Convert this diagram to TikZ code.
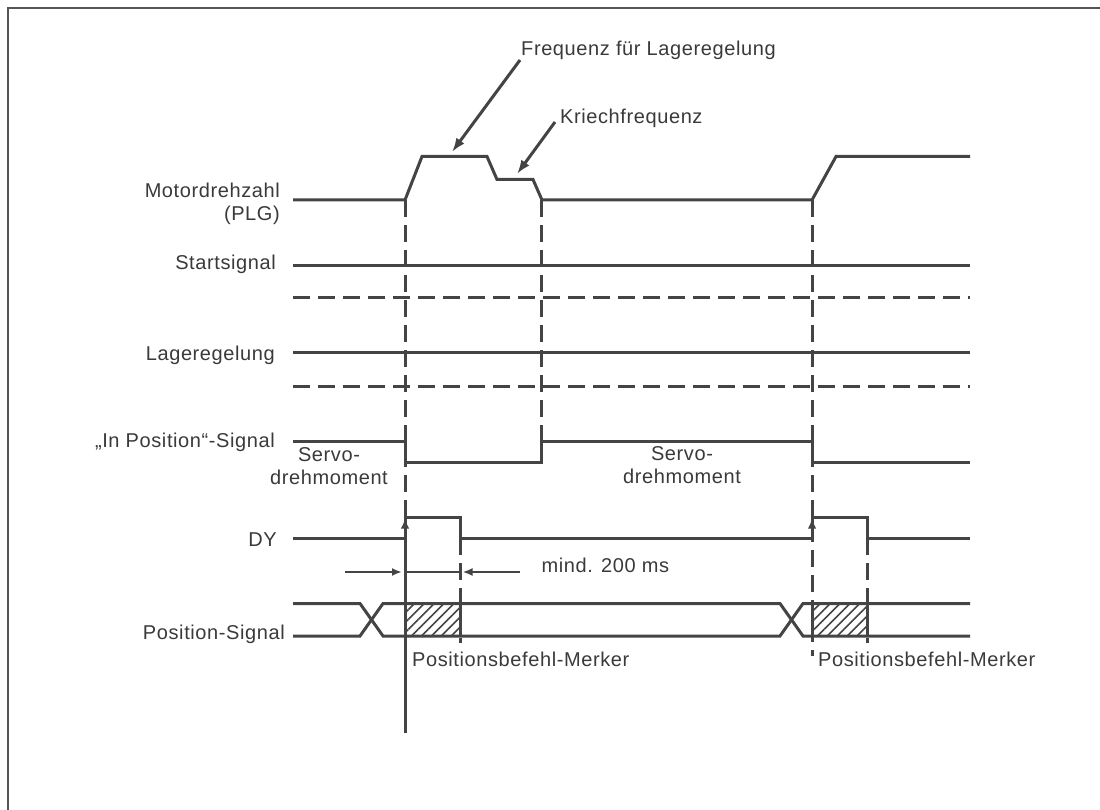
\documentclass[tikz,border=0pt]{standalone}
\usepackage{fontspec}
\setmainfont{Liberation Sans}
\newfontfamily\labfont[LetterSpace=3]{Liberation Sans}
\usetikzlibrary{arrows.meta,patterns.meta}
\definecolor{ink}{HTML}{444444}
\definecolor{txt}{HTML}{3A3A3A}
\definecolor{framecol}{HTML}{555555}
\begin{document}
\begin{tikzpicture}[x=1pt,y=-1pt,
  sig/.style={draw=ink,line width=3pt,line join=miter},
  guide/.style={draw=ink,line width=3pt,dash pattern=on 17pt off 8pt},
  lbl/.style={text=txt,font=\labfont\fontsize{20}{23}\selectfont,inner sep=0pt},
  ptr/.style={draw=ink,line width=3pt,-{Latex[length=14pt,width=10pt]}},
  dimarrow/.style={draw=ink,line width=2.5pt,-{Latex[length=10pt,width=8pt]}},
  upmark/.style={draw=ink,line width=2.5pt,-{Latex[length=10pt,width=8.5pt]}},
  hatch/.style={pattern={Lines[angle=45,distance=7pt,line width=1.6pt]},pattern color=ink},
]
\useasboundingbox (0,0) rectangle (1100,810);
\fill[white] (0,0) rectangle (1100,810);
\draw[framecol,line width=2pt] (7.5,810) -- (7.5,8.5) -- (1100,8.5);

% dashed reference lines
\draw[guide] (293,298) -- (970,298);
\draw[guide] (293,386) -- (970,386);
\draw[guide] (405,200) -- (405,516);
\draw[guide] (541,200) -- (541,441);
\draw[guide] (460,538) -- (460,643);
\draw[guide] (812,200) -- (812,656);
\draw[guide] (867,538) -- (867,643);

% signal lines
\draw[sig] (293,200) -- (405,200) -- (422,156.5) -- (487,156.5) -- (497,179.5) -- (533,179.5) -- (542,200) -- (812,200) -- (836,156.5) -- (970,156.5);
\draw[sig] (293,266) -- (970,266);
\draw[sig] (293,352.5) -- (970,352.5);
\draw[sig] (293,441) -- (405,441) -- (405,462) -- (541,462) -- (541,441) -- (812,441) -- (812,462) -- (970,462);
\draw[sig] (293,538) -- (405,538) -- (405,517) -- (460,517) -- (460,538) -- (812,538) -- (812,517) -- (867,517) -- (867,538) -- (970,538);

% position signal with hatched windows
\path[hatch] (405,603.5) rectangle (460,636);
\path[hatch] (812,603.5) rectangle (867,636);
\draw[sig] (293,603.5) -- (360,603.5) -- (383,636) -- (780,636) -- (803,603.5) -- (970,603.5);
\draw[sig] (293,636) -- (360,636) -- (383,603.5) -- (780,603.5) -- (803,636) -- (970,636);
\draw[sig] (405,603.5) -- (405,636) (460,603.5) -- (460,636);
\draw[sig] (812,603.5) -- (812,636) (867,603.5) -- (867,636);

% trigger marks
\coordinate (trigA) at (405,518.5);
\coordinate (baseA) at (405,733);
\coordinate (trigB) at (812,518.5);
\coordinate (baseB) at (812,538);
\draw[upmark] (baseA) -- (trigA);
\draw[upmark] (baseB) -- (trigB);
\draw[ink,line width=3pt] (baseA) -- (405,530);

% minimum time dimension
\coordinate (dimL) at (345,572);
\coordinate (dimLtip) at (402,572);
\coordinate (dimMidL) at (405,572);
\coordinate (dimMidR) at (460,572);
\coordinate (dimRtip) at (462.5,572);
\coordinate (dimR) at (520,572);
\draw[dimarrow] (dimL) -- (dimLtip);
\draw[ink,line width=2.5pt] (dimMidL) -- (dimMidR);
\draw[dimarrow] (dimR) -- (dimRtip);

% labels
\node[lbl,anchor=north east,align=right] (motor) at (280,183) {Motordrehzahl\\(PLG)};
\node[lbl,anchor=base east] (start) at (276,270) {Startsignal};
\node[lbl,anchor=base east] (lage) at (275,360.5) {Lageregelung};
\node[lbl,anchor=base east] (inpos) at (275,447) {„In Position“-Signal};
\node[lbl,anchor=base east] (dy) at (277,546) {DY};
\node[lbl,anchor=base east] (possig) at (285,639) {Position-Signal};
\node[lbl,anchor=north,align=center] (servoA) at (329,447) {Servo-\\drehmoment};
\node[lbl,anchor=north,align=center] (servoB) at (682,446) {Servo-\\drehmoment};
\node[lbl,anchor=base west] (mind) at (541.5,572) {mind. 200 ms};
\node[lbl,anchor=base west] (freq) at (521,56) {Frequenz für Lageregelung};
\node[lbl,anchor=base west] (kriech) at (560,124) {Kriechfrequenz};
\node[lbl,anchor=base west] (merkA) at (412,666) {Positionsbefehl-Merker};
\node[lbl,anchor=base west] (merkB) at (818,666) {Positionsbefehl-Merker};

% pointers to the speed levels
\coordinate (freqfrom) at (520,60);
\coordinate (freqtip) at (452,152);
\coordinate (kriechfrom) at (555,122);
\coordinate (kriechtip) at (517,174);
\draw[ptr] (freqfrom) -- (freqtip);
\draw[ptr] (kriechfrom) -- (kriechtip);
\end{tikzpicture}
\end{document}
